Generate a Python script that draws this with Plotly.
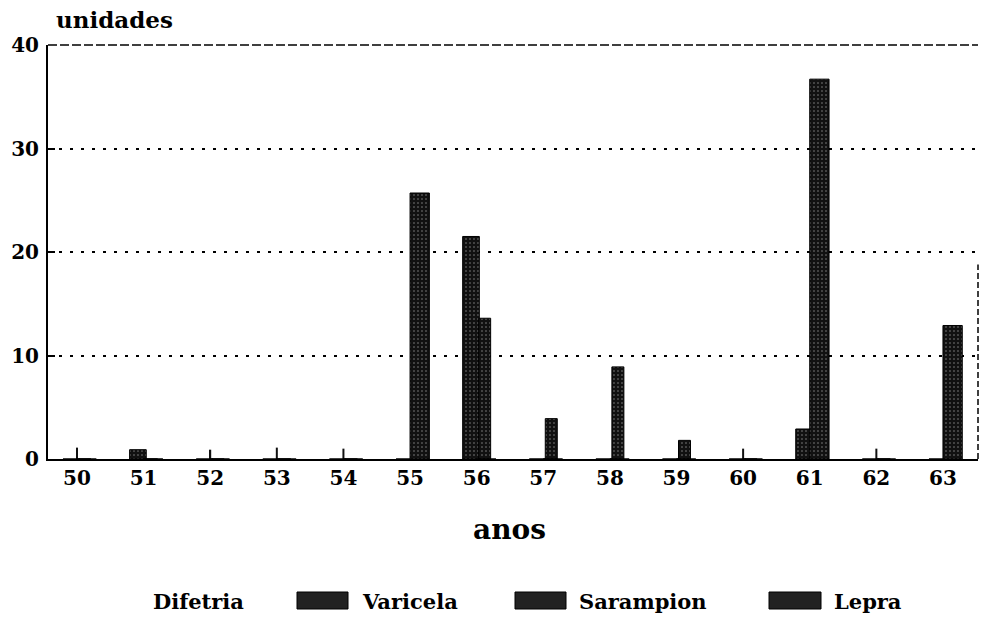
import plotly.graph_objects as go

# Casos notificados por ano (unidades)
anos = [50, 51, 52, 53, 54, 55, 56, 57, 58, 59, 60, 61, 62, 63]
difetria = [1.1, 0, 0.9, 1.1, 1.0, 0, 0, 0, 0, 0, 1.0, 0, 1.0, 0]
varicela = [0, 0.9, 0, 0, 0, 0, 21.5, 0, 0, 0, 0, 2.9, 0, 0]
sarampion = [0, 0, 0, 0, 0, 0, 13.6, 3.9, 8.9, 1.8, 0, 0, 0, 0]
lepra = [0, 0, 0, 0, 0, 25.7, 0, 0, 0, 0, 0, 36.7, 0, 12.9]

y_ticks = [0, 10, 20, 30, 40]
grid_levels = [10, 20, 30]
legend_names = ["Difetria", "Varicela", "Sarampion", "Lepra"]

W, H = 982, 620
L, R, T, B = 48, 4, 45, 161
PW, PH = W - L - R, H - T - B

SERIF = "DejaVu Serif"
INK = "#111111"


def px(xp):
    return (xp - L) / PW


def py(yp):
    return (H - B - yp) / PH


stipple = dict(shape=".", fillmode="overlay", fgcolor="white",
               fgopacity=0.5, size=4, solidity=0.12)

fig = go.Figure()
fig.add_trace(go.Bar(x=anos, y=difetria, name=legend_names[0],
                     width=0.03, offset=-0.015,
                     marker=dict(color=INK, line=dict(width=0))))
fig.add_trace(go.Bar(x=anos, y=varicela, name=legend_names[1],
                     width=0.25, offset=-0.21,
                     marker=dict(color=INK, pattern=stipple,
                                 line=dict(color="black", width=1))))
fig.add_trace(go.Bar(x=anos, y=sarampion, name=legend_names[2],
                     width=0.18, offset=0.03,
                     marker=dict(color=INK, pattern=stipple,
                                 line=dict(color="black", width=1))))
fig.add_trace(go.Bar(x=anos, y=lepra, name=legend_names[3],
                     width=0.29, offset=0.0,
                     marker=dict(color=INK, pattern=stipple,
                                 line=dict(color="black", width=1))))

fig.update_layout(
    width=W, height=H,
    margin=dict(l=L, r=R, t=T, b=B, pad=0),
    paper_bgcolor="white", plot_bgcolor="white",
    barmode="overlay",
    showlegend=False,
    font=dict(family=SERIF, color="black"),
)

fig.update_xaxes(
    range=[49.565, 63.526],
    tickmode="array", tickvals=anos, ticktext=[str(a) for a in anos],
    tickfont=dict(family=SERIF, size=20, color="black", weight="bold"),
    ticks="", ticklabelstandoff=0,
    showgrid=False, zeroline=False,
    showline=True, linecolor="black", linewidth=2,
)
fig.update_yaxes(
    range=[0, 40],
    tickmode="array", tickvals=y_ticks, ticktext=[str(v) for v in y_ticks],
    tickfont=dict(family=SERIF, size=20, color="black", weight="bold"),
    ticks="inside", ticklen=7, tickwidth=2, tickcolor="black",
    ticklabelstandoff=3,
    showgrid=False, zeroline=False,
    showline=True, linecolor="black", linewidth=2,
    minor=dict(tickvals=grid_levels, ticks="", showgrid=True,
               gridcolor="black", gridwidth=2, griddash="3px,8px"),
)

shapes = [
    # top and right frame
    dict(type="line", xref="paper", yref="paper", x0=0, x1=1, y0=1, y1=1,
         line=dict(color="black", width=1.5, dash="9px,3px")),
    dict(type="line", xref="paper", yref="paper", x0=1, x1=1, y0=0, y1=0.47,
         line=dict(color="black", width=1.5, dash="6px,3px")),
]

annotations = [
    dict(text="<b>unidades</b>", xref="paper", yref="paper",
         x=px(54), y=py(20), xanchor="left", yanchor="middle",
         showarrow=False, font=dict(family=SERIF, size=23, color="black")),
    dict(text="<b>anos</b>", xref="paper", yref="paper",
         x=px(509), y=py(529), xanchor="center", yanchor="middle",
         showarrow=False, font=dict(family=SERIF, size=28, color="black")),
]

# legend row: swatch boxes and labels
legend_text_x = [151, 360, 577, 832]
legend_box_x = [None, (297, 348), (515, 566), (769, 821)]
legend_y = 601
for name, tx, box in zip(legend_names, legend_text_x, legend_box_x):
    annotations.append(dict(
        text="<b>%s</b>" % name, xref="paper", yref="paper",
        x=px(tx), y=py(legend_y), xanchor="left", yanchor="middle",
        showarrow=False, font=dict(family=SERIF, size=21, color="black")))
    if box is not None:
        shapes.append(dict(
            type="rect", xref="paper", yref="paper",
            x0=px(box[0]), x1=px(box[1]),
            y0=py(legend_y - 9), y1=py(legend_y + 8),
            fillcolor="#222222", line=dict(color="black", width=1)))

fig.update_layout(shapes=shapes, annotations=annotations)

fig.write_html("out.html")
